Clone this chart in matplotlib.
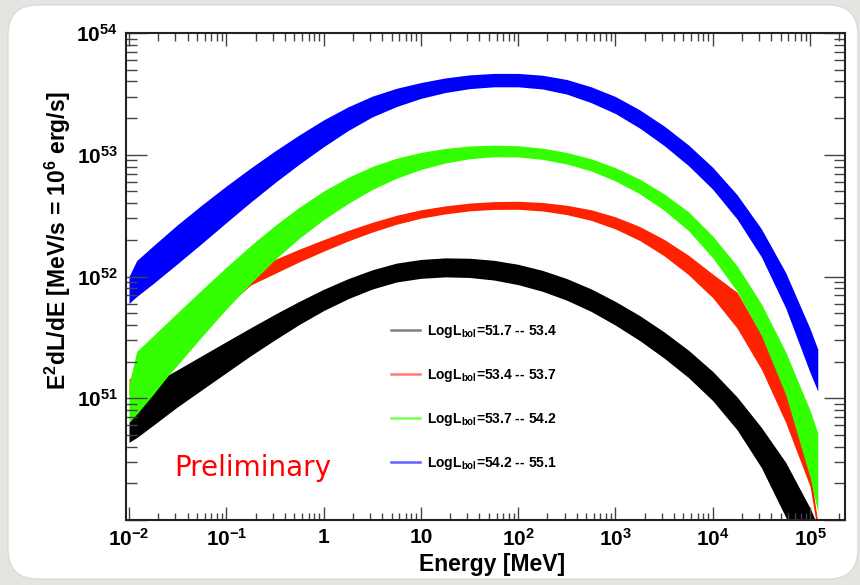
import matplotlib
matplotlib.use('Agg')
import matplotlib.pyplot as plt
import numpy as np
from matplotlib.patches import FancyBboxPatch
from matplotlib.lines import Line2D
from matplotlib.ticker import FixedLocator, LogLocator, NullFormatter

plt.rcParams.update({
    'font.family': ['Liberation Sans', 'DejaVu Sans'],
    'font.weight': 'bold',
    'mathtext.fontset': 'custom',
    'mathtext.rm': 'Liberation Sans:bold',
    'mathtext.bf': 'Liberation Sans:bold',
    'mathtext.it': 'Liberation Sans:bold',
    'mathtext.default': 'bf',
})

# ---------------- data ----------------
energy = [0.01, 0.012, 0.0178, 0.0251, 0.0316, 0.0562, 0.1, 0.178, 0.316, 0.562,
          1.0, 1.78, 3.16, 5.62, 10.0, 17.8, 31.6, 56.2, 100.0, 178.0,
          316.0, 562.0, 1000.0, 1780.0, 3160.0, 5620.0, 1.0e4, 1.78e4, 3.16e4,
          5.62e4, 1.0e5, 1.2e5]

# log10 of E^2 dL/dE  (upper / lower edge of each band)
black_hi = [50.803, 50.877, 51.044, 51.190, 51.235, 51.350, 51.465, 51.579, 51.690, 51.796,
            51.895, 51.982, 52.055, 52.110, 52.140, 52.153, 52.150, 52.133, 52.100, 52.050,
            51.983, 51.898, 51.795, 51.678, 51.545, 51.395, 51.220, 51.010, 50.760, 50.473,
            50.098, 49.950]
black_lo = [50.638, 50.677, 50.779, 50.870, 50.930, 51.070, 51.210, 51.349, 51.480, 51.606,
            51.720, 51.817, 51.897, 51.955, 51.985, 51.997, 51.992, 51.971, 51.933, 51.878,
            51.805, 51.713, 51.600, 51.473, 51.330, 51.170, 50.980, 50.740, 50.430, 50.023,
            49.548, 49.400]

red_hi = [51.156, 51.221, 51.352, 51.465, 51.541, 51.721, 51.893, 52.025, 52.140, 52.225,
          52.303, 52.378, 52.445, 52.503, 52.548, 52.580, 52.603, 52.615, 52.618, 52.608,
          52.585, 52.548, 52.490, 52.410, 52.305, 52.175, 52.020, 51.870, 51.525, 51.074,
          50.418, 49.980]
red_lo = [51.033, 51.090, 51.213, 51.321, 51.393, 51.574, 51.754, 51.930, 52.025, 52.120,
          52.208, 52.291, 52.365, 52.429, 52.479, 52.514, 52.539, 52.551, 52.552, 52.538,
          52.508, 52.461, 52.390, 52.295, 52.170, 52.015, 51.825, 51.575, 51.238, 50.800,
          50.275, 49.900]

green_hi = [51.115, 51.385, 51.514, 51.628, 51.704, 51.892, 52.077, 52.254, 52.419, 52.569,
            52.702, 52.814, 52.904, 52.972, 53.019, 53.052, 53.072, 53.079, 53.074, 53.054,
            53.019, 52.967, 52.894, 52.799, 52.679, 52.532, 52.332, 52.087, 51.775, 51.380,
            50.900, 50.716]
green_lo = [50.803, 50.870, 51.034, 51.185, 51.274, 51.507, 51.732, 51.944, 52.139, 52.314,
            52.467, 52.599, 52.714, 52.807, 52.879, 52.932, 52.967, 52.984, 52.982, 52.962,
            52.924, 52.867, 52.784, 52.679, 52.544, 52.377, 52.152, 51.877, 51.515, 51.030,
            50.350, 50.066]

blue_hi = [52.000, 52.131, 52.253, 52.357, 52.426, 52.588, 52.743, 52.891, 53.031, 53.163,
           53.286, 53.393, 53.481, 53.546, 53.593, 53.631, 53.656, 53.668, 53.668, 53.653,
           53.618, 53.558, 53.478, 53.368, 53.236, 53.081, 52.896, 52.671, 52.391, 52.031,
           51.571, 51.403]
blue_lo = [51.779, 51.836, 51.943, 52.041, 52.106, 52.273, 52.443, 52.611, 52.771, 52.923,
           53.066, 53.198, 53.311, 53.396, 53.463, 53.511, 53.543, 53.558, 53.558, 53.540,
           53.498, 53.428, 53.338, 53.218, 53.076, 52.911, 52.716, 52.471, 52.161, 51.741,
           51.211, 51.058]

band_labels = [r'LogL$_{\mathregular{bol}}$=51.7 -- 53.4',
               r'LogL$_{\mathregular{bol}}$=53.4 -- 53.7',
               r'LogL$_{\mathregular{bol}}$=53.7 -- 54.2',
               r'LogL$_{\mathregular{bol}}$=54.2 -- 55.1']
band_colors = ['#000000', '#ff2200', '#33ff00', '#0000ff']
legend_colors = ['#808080', '#ff7a7a', '#77ff55', '#6060ff']

xtick_vals = [1e-2, 1e-1, 1, 10, 1e2, 1e3, 1e4, 1e5]
xtick_labels = [r'$10^{-2}$', r'$10^{-1}$', '1', '10', r'$10^{2}$', r'$10^{3}$',
                r'$10^{4}$', r'$10^{5}$']
ytick_vals = [1e50, 1e51, 1e52, 1e53, 1e54]
ytick_labels = ['', r'$10^{51}$', r'$10^{52}$', r'$10^{53}$', r'$10^{54}$']

# ---------------- figure ----------------
W, H = 860, 585
fig = plt.figure(figsize=(W / 100, H / 100), dpi=100, facecolor='#e6e4e0')
panel = FancyBboxPatch((0.08, 0.06), 8.50, 5.74,
                       boxstyle='round,pad=0,rounding_size=0.30',
                       transform=fig.dpi_scale_trans, facecolor='white',
                       edgecolor='#d8d6d2', linewidth=0.8, zorder=-5)
fig.patches.append(panel)

ax = fig.add_axes([126 / W, 65 / H, 719 / W, 487 / H])
ax.set_zorder(1)
ax.set_facecolor('white')
ax.set_xscale('log')
ax.set_yscale('log')

bands = [(black_lo, black_hi), (red_lo, red_hi), (green_lo, green_hi), (blue_lo, blue_hi)]
E = np.array(energy)
for (lo, hi), c in zip(bands, band_colors):
    ax.fill_between(E, 10 ** np.array(lo), 10 ** np.array(hi), color=c, lw=0)

ax.set_xlim(10 ** -2.031, 10 ** 5.359)
ax.set_ylim(1e50, 1e54)

ax.xaxis.set_major_locator(FixedLocator(xtick_vals))
ax.set_xticklabels(xtick_labels)
ax.yaxis.set_major_locator(FixedLocator(ytick_vals))
ax.set_yticklabels(ytick_labels)
for axis in (ax.xaxis, ax.yaxis):
    axis.set_minor_locator(LogLocator(base=10, subs=np.arange(2, 10), numticks=30))
    axis.set_minor_formatter(NullFormatter())

ax.tick_params(which='both', direction='in', top=True, right=True,
               color='#444444', width=1.0)
ax.tick_params(axis='x', which='major', length=9.7, pad=6, labelsize=15)
ax.tick_params(axis='x', which='minor', length=5.4)
ax.tick_params(axis='y', which='major', length=15, pad=6, labelsize=15)
ax.tick_params(axis='y', which='minor', length=8)
for s in ax.spines.values():
    s.set_linewidth(1.5)
    s.set_color('#222222')

handles = [Line2D([], [], color=c, lw=1.8) for c in legend_colors]
ax.legend(handles, band_labels, loc='upper left', bbox_to_anchor=(0.368, 0.405),
          frameon=False, fontsize=10, handlelength=2.1, handletextpad=0.55,
          labelspacing=1.95, borderaxespad=0, borderpad=0)

fig.text(492 / W, 1 - 565 / H, 'Energy [MeV]', ha='center', va='center',
         fontsize=16.5, fontweight='bold')
fig.text(58 / W, 1 - 240 / H, r'E$^{2}$dL/dE [MeV/s = 10$^{6}$ erg/s]', rotation=90,
         ha='center', va='center', fontsize=16.5, fontweight='bold')
fig.text(253 / W, 1 - 468 / H, 'Preliminary', ha='center', va='center', color='#ff0000',
         fontsize=20, fontweight='normal', family=['DejaVu Sans'], zorder=3)

fig.savefig('out.png', dpi=100, facecolor=fig.get_facecolor())
